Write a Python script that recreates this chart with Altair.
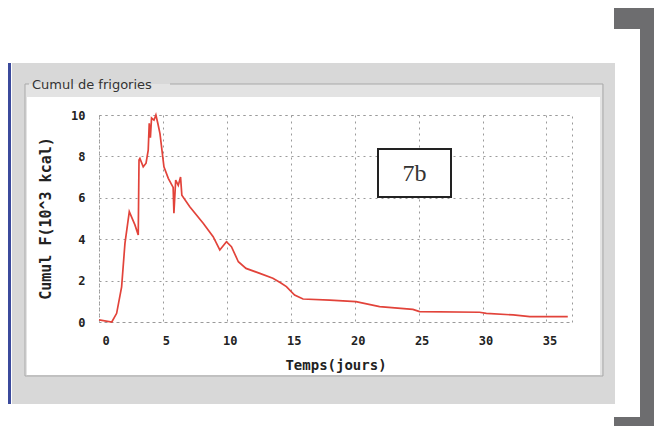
import altair as alt
import pandas as pd

# ---- data ----
days = [0, 1.0, 1.38, 1.77, 2.03, 2.37, 2.81, 3.07, 3.13, 3.2, 3.46, 3.68, 3.85, 3.93, 4.02,
        4.11, 4.3, 4.45, 4.6, 4.77, 5.08, 5.42, 5.8, 5.86, 6.0, 6.2, 6.38, 6.48, 7.1, 8.15,
        8.93, 9.45, 9.97, 10.36, 10.9, 11.5, 12.58, 13.6, 14.2, 14.66, 15.3, 15.96, 18.05,
        20.1, 21.95, 24.55, 25.08, 29.77, 30.3, 32.4, 33.7, 36.67]
cumul = [0.1, 0.0, 0.42, 1.7, 3.8, 5.33, 4.69, 4.2, 7.83, 7.9, 7.5, 7.67, 8.3, 9.6, 8.9,
         9.85, 9.75, 10.0, 9.6, 9.1, 7.5, 6.94, 6.5, 5.25, 6.86, 6.6, 7.0, 6.13, 5.57, 4.77,
         4.12, 3.48, 3.88, 3.64, 2.91, 2.59, 2.35, 2.11, 1.9, 1.71, 1.30, 1.11, 1.06,
         0.98, 0.74, 0.61, 0.5, 0.47, 0.42, 0.34, 0.26, 0.26]
x_ticks = [0, 5, 10, 15, 20, 25, 30, 35]
y_ticks = [0, 2, 4, 6, 8, 10]
x_domain = [0, 37]
y_domain = [0, 10]
panel_title = ["Cumul de frigories"]
tag = ["7b"]
x_title = "Temps(jours)"
y_title = "Cumul F(10^3 kcal)"

df = pd.DataFrame({"t": days, "f": cumul})
one = alt.Data(values=[{"k": 0}])

MONO = "DejaVu Sans Mono"


def box(x, x2, y, y2, fill, **kw):
    return alt.Chart(one).mark_rect(fill=fill, **kw).encode(
        x=alt.value(x), x2=alt.value(x2), y=alt.value(y), y2=alt.value(y2))


def hline(x, x2, y, color="#a9a9a9"):
    return alt.Chart(one).mark_rule(color=color, strokeWidth=1).encode(
        x=alt.value(x), x2=alt.value(x2), y=alt.value(y))


def vline(x, y, y2, color="#a9a9a9"):
    return alt.Chart(one).mark_rule(color=color, strokeWidth=1).encode(
        x=alt.value(x), y=alt.value(y), y2=alt.value(y2))


gray = "#d8d8d8"
decor = [
    # right bracket
    box(515, 563, -108, -86, "#6d6d6f"),
    box(541, 563, -108, 319, "#6d6d6f"),
    box(515, 563, 302, 319, "#6d6d6f"),
    # grey window frame
    box(-87, 516, -52, -18, gray),
    box(-87, 516, 260, 289, gray),
    box(-87, -74, -52, 289, gray),
    box(501, 516, -52, 289, gray),
    box(-74, 503, -31, -18, "#e3e3e3"),
    box(-74, -72, -31, 261, "#e3e3e3"),
    box(501, 503, -31, 261, "#e3e3e3"),
    # blue side bar
    box(-93, -88, -52, 289, "#3b4a9c"),
    # group box outline
    hline(-74, -70, -31),
    hline(71, 504, -31),
    vline(-74, -31, 261),
    vline(504, -31, 261),
    hline(-74, 504, 261),
]

title_txt = alt.Chart(alt.Data(values=[{"s": panel_title[0]}])).mark_text(
    align="left", baseline="middle", font="DejaVu Sans", fontSize=13, color="#333333"
).encode(x=alt.value(-67), y=alt.value(-30), text="s:N")

tag_box = box(279, 352, 34, 82, "white", stroke="#222222", strokeWidth=2)
tag_txt = alt.Chart(alt.Data(values=[{"s": tag[0]}])).mark_text(
    align="center", baseline="middle", font="Liberation Serif", fontSize=24, color="#333333"
).encode(x=alt.value(315.5), y=alt.value(59), text="s:N")

line = alt.Chart(df).mark_line(color="#e2433a", strokeWidth=1.7).encode(
    x=alt.X("t:Q", scale=alt.Scale(domain=x_domain, nice=False, zero=False),
            axis=alt.Axis(values=x_ticks, title=x_title, labelPadding=13, labelOffset=3,
                          titleY=43, titleBaseline="middle", titleFontSize=14)),
    y=alt.Y("f:Q", scale=alt.Scale(domain=y_domain, nice=False),
            axis=alt.Axis(values=y_ticks, title=y_title, labelPadding=14,
                          titleX=-54, titleY=103, titleBaseline="middle", titleAlign="center")),
)

chart = alt.layer(*decor, title_txt, tag_box, tag_txt, line).properties(
    width=473, height=207,
    autosize=alt.AutoSizeParams(type="none"),
    padding={"left": 91, "top": 107, "right": 82, "bottom": 104},
    background="white",
).configure_axis(
    domain=False, ticks=False,
    grid=True, gridColor="#9a9a9a", gridDash=[2, 4], gridWidth=1,
    labelFont=MONO, labelFontWeight="bold", labelFontSize=12, labelColor="#222222",
    titleFont=MONO, titleFontWeight="bold", titleFontSize=15, titleColor="#222222",
).configure_view(stroke="#9a9a9a", strokeDash=[2, 4], strokeWidth=1)

chart.save("out.html", embed_options={"renderer": "svg", "actions": False})
